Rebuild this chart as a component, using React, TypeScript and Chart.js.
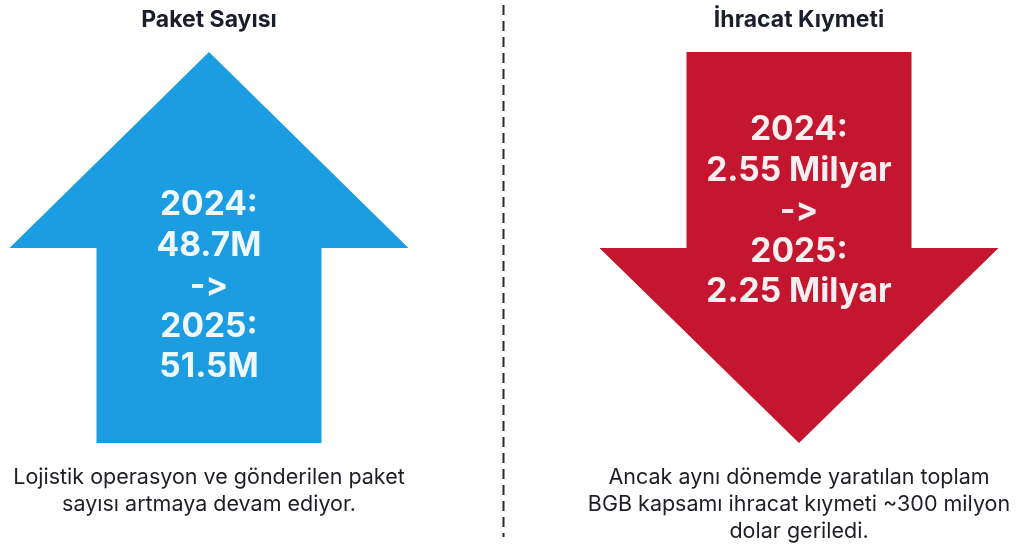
import React, { useEffect, useRef } from "react";
import { Chart, registerables } from "chart.js";

Chart.register(...registerables);

// ---- data ----
const metrics = ["Paket Sayısı", "İhracat Kıymeti"];
const yearFrom = "2024";
const yearTo = "2025";
const values2024 = [48.7, 2.55];
const values2025 = [51.5, 2.25];
const unitLabels = ["M", " Milyar"];
const captions = [
  ["Lojistik operasyon ve gönderilen paket", "sayısı artmaya devam ediyor."],
  [
    "Ancak aynı dönemde yaratılan toplam",
    "BGB kapsamı ihracat kıymeti ~300 milyon",
    "dolar geriledi.",
  ],
];

// ---- layout / style ----
const W = 1028;
const H = 544;
const CENTERS = [209, 799];
const ARROW_TOP = 52;
const ARROW_BOTTOM = 443;
const HEAD_BASE = 248;
const HEAD_HALF = 199.5;
const SHAFT_HALF = 112.5;
const UP_COLOR = "#1c9de2";
const DOWN_COLOR = "#c4172f";
const FONT = "Inter, 'Noto Sans', sans-serif";

// draw text char-group by char-group to avoid the "->" ligature
function fillNoLig(ctx: CanvasRenderingContext2D, text: string, x: number, y: number) {
  if (text.indexOf("->") < 0) {
    ctx.fillText(text, x, y);
    return;
  }
  const parts = text.split("");
  const widths = parts.map((p) => ctx.measureText(p).width);
  const total = widths.reduce((a, b) => a + b, 0);
  const prevAlign = ctx.textAlign;
  ctx.textAlign = "left";
  let cur = x - total / 2;
  parts.forEach((p, k) => {
    ctx.fillText(p, cur, y);
    cur += widths[k];
  });
  ctx.textAlign = prevAlign;
}

const arrowPlugin = {
  id: "arrowInfographic",
  afterDatasetsDraw(chart: any) {
    const ctx: CanvasRenderingContext2D = chart.ctx;
    const xs = chart.scales.x;
    const ys = chart.scales.y;
    const X = (v: number) => xs.getPixelForValue(v);
    const Y = (v: number) => ys.getPixelForValue(v);

    ctx.save();
    // divider
    ctx.strokeStyle = "#2a2a2a";
    ctx.lineWidth = 2;
    ctx.setLineDash([10, 6]);
    ctx.beginPath();
    ctx.moveTo(X(503.5), Y(5));
    ctx.lineTo(X(503.5), Y(537));
    ctx.stroke();
    ctx.setLineDash([]);

    metrics.forEach((title, i) => {
      const cx = CENTERS[i];
      const up = values2025[i] >= values2024[i];
      const color = up ? UP_COLOR : DOWN_COLOR;

      // title
      ctx.fillStyle = "#1a1d2b";
      ctx.font = `bold 23px ${FONT}`;
      ctx.textAlign = "center";
      ctx.textBaseline = "middle";
      ctx.fillText(title, X(cx), Y(20));

      // arrow
      ctx.fillStyle = color;
      ctx.beginPath();
      if (up) {
        ctx.moveTo(X(cx), Y(ARROW_TOP));
        ctx.lineTo(X(cx + HEAD_HALF), Y(HEAD_BASE));
        ctx.lineTo(X(cx + SHAFT_HALF), Y(HEAD_BASE));
        ctx.lineTo(X(cx + SHAFT_HALF), Y(ARROW_BOTTOM));
        ctx.lineTo(X(cx - SHAFT_HALF), Y(ARROW_BOTTOM));
        ctx.lineTo(X(cx - SHAFT_HALF), Y(HEAD_BASE));
        ctx.lineTo(X(cx - HEAD_HALF), Y(HEAD_BASE));
      } else {
        ctx.moveTo(X(cx - SHAFT_HALF), Y(ARROW_TOP));
        ctx.lineTo(X(cx + SHAFT_HALF), Y(ARROW_TOP));
        ctx.lineTo(X(cx + SHAFT_HALF), Y(HEAD_BASE));
        ctx.lineTo(X(cx + HEAD_HALF), Y(HEAD_BASE));
        ctx.lineTo(X(cx), Y(ARROW_BOTTOM));
        ctx.lineTo(X(cx - HEAD_HALF), Y(HEAD_BASE));
        ctx.lineTo(X(cx - SHAFT_HALF), Y(HEAD_BASE));
      }
      ctx.closePath();
      ctx.fill();

      // inner text
      const lines = [
        `${yearFrom}:`,
        `${values2024[i]}${unitLabels[i]}`,
        "->",
        `${yearTo}:`,
        `${values2025[i]}${unitLabels[i]}`,
      ];
      const startY = up ? 205 : 130;
      ctx.fillStyle = "rgba(255,255,255,0.93)";
      ctx.font = `bold 33.5px ${FONT}`;
      lines.forEach((t, k) => {
        fillNoLig(ctx, t, X(cx), Y(startY + k * 40.5));
      });

      // caption
      ctx.fillStyle = "#1e1e24";
      ctx.font = `21.5px ${FONT}`;
      captions[i].forEach((t, k) => {
        ctx.fillText(t, X(cx), Y(478 + k * 27));
      });
    });
    ctx.restore();
  },
};

export default function App() {
  const ref = useRef<HTMLCanvasElement | null>(null);

  useEffect(() => {
    document.body.style.margin = "0";
    let chart: Chart | null = null;
    let cancelled = false;
    const make = () => {
      if (cancelled || !ref.current) return;
      chart = new Chart(ref.current, {
        type: "scatter",
        data: { datasets: [{ data: [] }] },
        options: {
          animation: false,
          responsive: false,
          layout: { padding: 0 },
          plugins: { legend: { display: false }, tooltip: { enabled: false } },
          scales: {
            x: { type: "linear", min: 0, max: W, display: false },
            y: { type: "linear", min: 0, max: H, reverse: true, display: false },
          },
        },
        plugins: [arrowPlugin],
      });
    };
    const fontsReady = (document as any).fonts
      ? Promise.all([
          (document as any).fonts.load(`bold 32px Inter`),
          (document as any).fonts.load(`19px Inter`),
        ]).catch(() => null)
      : Promise.resolve(null);
    fontsReady.then(make);
    return () => {
      cancelled = true;
      if (chart) chart.destroy();
    };
  }, []);

  return (
    <div style={{ width: W, height: H, background: "#ffffff" }}>
      <canvas ref={ref} width={W} height={H} style={{ display: "block" }} />
    </div>
  );
}
